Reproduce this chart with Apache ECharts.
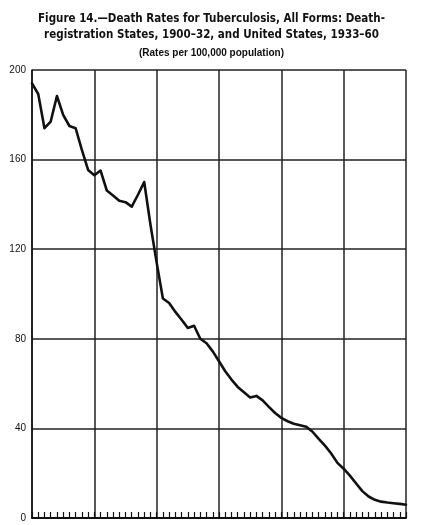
<!DOCTYPE html>
<html>
<head>
<meta charset="utf-8">
<script src="https://cdn.jsdelivr.net/npm/echarts@6/dist/echarts.min.js"></script>
<style>
html,body{margin:0;padding:0;background:#fff;}
#c{width:423px;height:525px;}
</style>
</head>
<body>
<div id="c"></div>
<script>
const titleLines = ["Figure 14.\u2014Death Rates for Tuberculosis, All Forms: Death-", "registration States, 1900\u201332, and United States, 1933\u201360"];
const subtitleText = "(Rates per 100,000 population)";
const years = [1900,1901,1902,1903,1904,1905,1906,1907,1908,1909,
               1910,1911,1912,1913,1914,1915,1916,1917,1918,1919,
               1920,1921,1922,1923,1924,1925,1926,1927,1928,1929,
               1930,1931,1932,1933,1934,1935,1936,1937,1938,1939,
               1940,1941,1942,1943,1944,1945,1946,1947,1948,1949,
               1950,1951,1952,1953,1954,1955,1956,1957,1958,1959,1960];
const rates = [194,189.3,174,177,188.4,180,175,174,164.3,155.4,
               153,155.1,146.2,144,141.6,141,139,144.3,150,131,
               114,98,96,92,88.5,84.8,85.8,80,78,74.4,
               70,65.5,61.8,58.5,56.1,53.8,54.5,52.5,49.6,46.9,
               44.7,43.2,42.1,41.4,40.7,38.5,35.3,32.3,28.8,24.6,
               22,18.9,15.4,12,9.6,8.1,7.3,6.9,6.6,6.3,5.9];
const yTicks = [0,40,80,120,160,200];

const chart = echarts.init(document.getElementById('c'), null, {renderer:'canvas'});
const data = years.map((y,i)=>[y, rates[i]]);
chart.setOption({
  animation:false,
  backgroundColor:'#fff',
  title:[
    {text:titleLines.join('\n'), left:'center', top:6,
     textStyle:{fontFamily:'"DejaVu Sans Condensed","Liberation Sans Narrow","Liberation Sans",sans-serif', fontWeight:'bold', fontSize:11.5, lineHeight:16, color:'#111'}},
    {text:subtitleText, left:'center', top:43,
     textStyle:{fontFamily:'"Liberation Sans",sans-serif', fontWeight:'bold', fontSize:10, color:'#111'}}
  ],
  grid:{left:32, right:17, top:70, bottom:7, containLabel:false},
  xAxis:{type:'value', min:1900, max:1960, interval:10,
    axisLine:{show:true, lineStyle:{color:'#111', width:2}},
    axisTick:{show:true, inside:true, length:6, lineStyle:{color:'#111', width:1.2}},
    minorTick:{show:true, splitNumber:10, length:6, lineStyle:{color:'#111', width:1.2}},
    axisLabel:{show:false},
    splitLine:{show:true, lineStyle:{color:'#222', width:1.5}}
  },
  yAxis:{type:'value', min:0, max:200, interval:40,
    axisLine:{show:true, lineStyle:{color:'#111', width:1.5}},
    axisTick:{show:false},
    axisLabel:{show:true, margin:6, fontSize:10, color:'#111', fontFamily:'"Liberation Sans",sans-serif',
      formatter:v=> yTicks.includes(v) ? String(v) : ''},
    splitLine:{show:true, lineStyle:{color:'#222', width:1.5}}
  },
  series:[{type:'line', data:data, showSymbol:false, smooth:false,
    lineStyle:{color:'#111', width:2.6, join:'round', cap:'round'}}]
});
</script>
</body>
</html>
